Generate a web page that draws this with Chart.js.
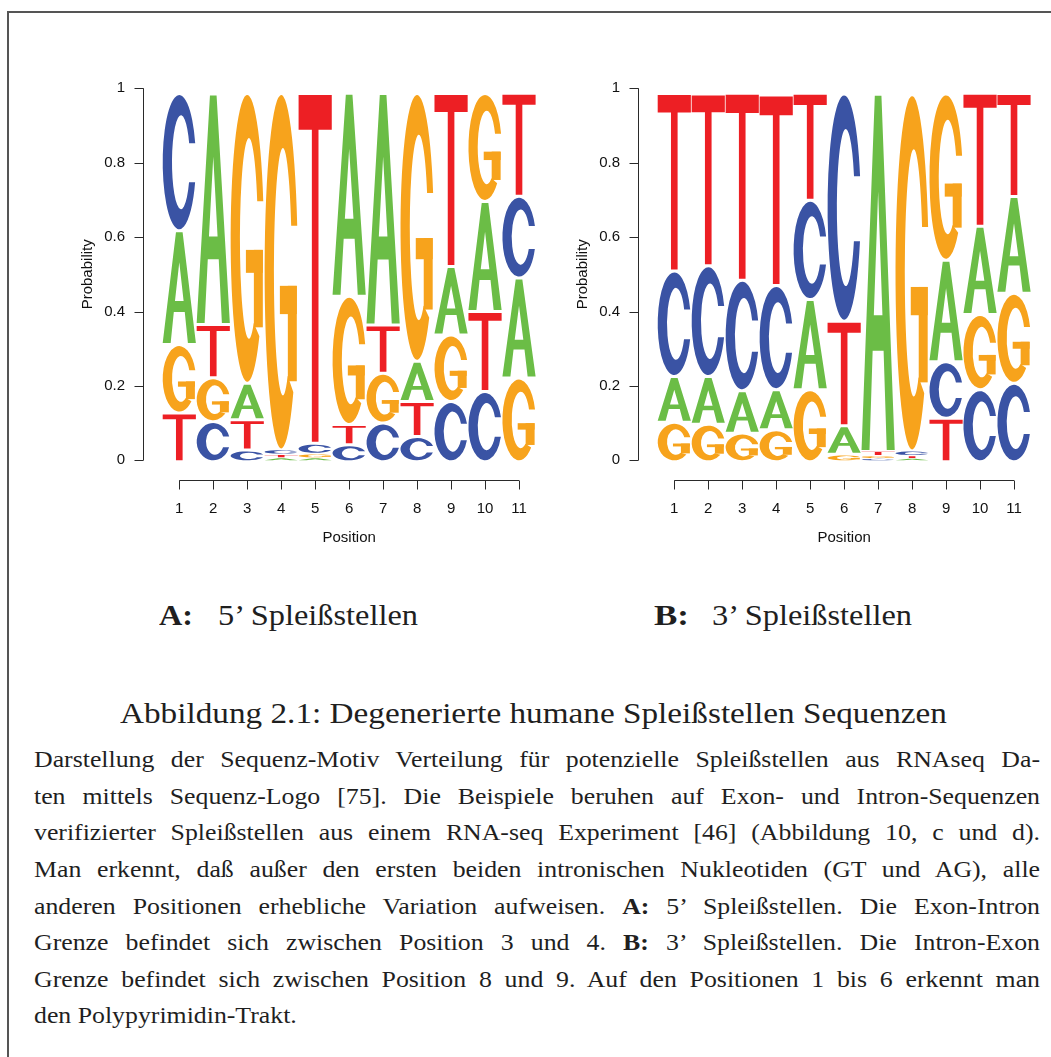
<!DOCTYPE html>
<html>
<head>
<meta charset="utf-8">
<title>Degenerierte humane Spleißstellen Sequenzen</title>
<script src="https://cdn.jsdelivr.net/npm/chart.js@4.4.1/dist/chart.umd.min.js"></script>
<style>
  html, body { margin: 0; padding: 0; background: #ffffff; overflow: hidden; }
  body { width: 1051px; height: 1057px; position: relative; }
  .frame { position: absolute; left: 7px; top: 11px; width: 1200px; height: 1200px;
           border-left: 2px solid #555; border-top: 2px solid #555; }
  .chartBox { position: absolute; top: 40px; width: 548px; height: 530px; }
  .txt { position: absolute; white-space: pre; font-family: "Liberation Serif", "Times New Roman", serif;
         color: #1f1f1f; transform-origin: 0 0; line-height: 1; }
  .txt b { font-weight: bold; }
</style>
</head>
<body>
<div class="frame"></div>
<div class="chartBox" style="left:0px"><canvas id="logo5"></canvas></div>
<div class="chartBox" style="left:495px"><canvas id="logo3"></canvas></div>
<div id="captions"></div>
<script>
// ---- data -------------------------------------------------------------
const positions = ['1', '2', '3', '4', '5', '6', '7', '8', '9', '10', '11'];
const yTickValues = [0, 0.2, 0.4, 0.6, 0.8, 1];
const yTickLabels = ['0', '0.2', '0.4', '0.6', '0.8', '1'];

// 5' splice sites: nucleotide probability per position
const fivePrimeA = [0.306, 0.620, 0.098, 0.008, 0.008, 0.546, 0.622, 0.108, 0.184, 0.296, 0.269];
const fivePrimeC = [0.369, 0.108, 0.032, 0.014, 0.030, 0.046, 0.104, 0.068, 0.162, 0.189, 0.220];
const fivePrimeG = [0.184, 0.118, 0.779, 0.958, 0.012, 0.345, 0.134, 0.720, 0.179, 0.290, 0.225];
const fivePrimeT = [0.131, 0.143, 0.081, 0.010, 0.940, 0.054, 0.130, 0.094, 0.465, 0.215, 0.277];
// stacking order of the letters, bottom to top
const fivePrimeOrder = ['TGAC', 'CGTA', 'CTAG', 'ATCG', 'AGCT', 'CTGA', 'CGTA', 'CTAG', 'CGAT', 'CTAG', 'GACT'];

// 3' splice sites
const threePrimeA = [0.123, 0.128, 0.114, 0.108, 0.242, 0.077, 0.960, 0.006, 0.273, 0.237, 0.260];
const threePrimeC = [0.284, 0.298, 0.297, 0.280, 0.267, 0.611, 0.006, 0.015, 0.152, 0.194, 0.211];
const threePrimeG = [0.106, 0.101, 0.077, 0.086, 0.194, 0.020, 0.008, 0.958, 0.447, 0.202, 0.242];
const threePrimeT = [0.477, 0.462, 0.503, 0.512, 0.288, 0.281, 0.014, 0.008, 0.117, 0.358, 0.277];
const threePrimeOrder = ['GACT', 'GACT', 'GACT', 'GACT', 'GACT', 'GATC', 'CGTA', 'ATCG', 'TCAG', 'CGAT', 'CGAT'];

const subTitleA = ['A:', '5’ Spleißstellen'];
const subTitleB = ['B:', '3’ Spleißstellen'];
const figureTitle = 'Abbildung 2.1: Degenerierte humane Spleißstellen Sequenzen';
const captionLines = [
  'Darstellung der Sequenz-Motiv Verteilung für potenzielle Spleißstellen aus RNAseq Da-',
  'ten mittels Sequenz-Logo [75]. Die Beispiele beruhen auf Exon- und Intron-Sequenzen',
  'verifizierter Spleißstellen aus einem RNA-seq Experiment [46] (Abbildung 10, c und d).',
  'Man erkennt, daß außer den ersten beiden intronischen Nukleotiden (GT und AG), alle',
  'anderen Positionen erhebliche Variation aufweisen. <b>A:</b> 5’ Spleißstellen. Die Exon-Intron',
  'Grenze befindet sich zwischen Position 3 und 4. <b>B:</b> 3’ Spleißstellen. Die Intron-Exon',
  'Grenze befindet sich zwischen Position 8 und 9. Auf den Positionen 1 bis 6 erkennt man',
  'den Polypyrimidin-Trakt.'
];

// ---- letter glyphs (unit box, y downwards) ---------------------------
const letterColours = { A: '#6bbd46', C: '#3a53a4', G: '#f7a31c', T: '#ed1f24' };

function glyphPath(ctx, ch) {
  ctx.beginPath();
  if (ch === 'T') {
    ctx.rect(0, 0, 1, 0.1);
    ctx.rect(0.4, 0.1, 0.2, 0.9);
  } else if (ch === 'A') {
    ctx.moveTo(0, 1); ctx.lineTo(0.4, 0); ctx.lineTo(0.6, 0); ctx.lineTo(1, 1);
    ctx.lineTo(0.76, 1); ctx.lineTo(0.665, 0.72); ctx.lineTo(0.335, 0.72); ctx.lineTo(0.24, 1);
    ctx.closePath();
    ctx.moveTo(0.37, 0.62); ctx.lineTo(0.5, 0.27); ctx.lineTo(0.63, 0.62); ctx.closePath();
  } else if (ch === 'C') {
    const oTop = Math.asin((0.36 - 0.5) / 0.5), oBot = Math.asin((0.65 - 0.5) / 0.5);
    const iTop = Math.asin((0.36 - 0.5) / 0.35), iBot = Math.asin((0.65 - 0.5) / 0.35);
    ctx.ellipse(0.5, 0.5, 0.5, 0.5, 0, oTop, oBot, true);
    ctx.ellipse(0.55, 0.5, 0.27, 0.35, 0, iBot, iTop, false);
    ctx.closePath();
  } else if (ch === 'G') {
    const oTop = Math.asin((0.37 - 0.5) / 0.5), iTop = Math.asin((0.37 - 0.5) / 0.35);
    ctx.ellipse(0.5, 0.5, 0.5, 0.5, 0, oTop, 0.75, true);
    ctx.ellipse(0.55, 0.5, 0.27, 0.35, 0, 1.0, iTop, false);
    ctx.closePath();
  }
}

function drawLetter(ctx, ch, x, y, w, h) {
  if (w <= 0 || h <= 0) return;
  ctx.save();
  ctx.translate(x, y);
  ctx.scale(w, h);
  ctx.fillStyle = letterColours[ch];
  glyphPath(ctx, ch);
  ctx.fill(ch === 'A' ? 'evenodd' : 'nonzero');
  if (ch === 'G') {
    ctx.fillRect(0.70, 0.54, 0.27, 0.27);   // stem
    ctx.fillRect(0.46, 0.54, 0.51, 0.08);   // spur
  }
  ctx.restore();
}

// draws each stacked bar as its nucleotide letter
const letterPlugin = {
  id: 'logoLetters',
  afterDatasetsDraw(chart) {
    const ctx = chart.ctx;
    chart.data.datasets.forEach((ds, r) => {
      const meta = chart.getDatasetMeta(r);
      meta.data.forEach((bar, i) => {
        const p = bar.getProps(['x', 'y', 'base', 'width'], true);
        const top = Math.min(p.y, p.base), bottom = Math.max(p.y, p.base);
        const h = bottom - top;
        const gap = Math.min(3, h * 0.35);
        drawLetter(ctx, ds.letters[i], p.x - p.width / 2 + 0.4, top + gap, p.width - 0.8, h - gap);
      });
    });
  }
};

// detached axes with outward ticks
const axisPlugin = {
  id: 'detachedAxes',
  afterDraw(chart) {
    const ctx = chart.ctx, xs = chart.scales.x, ys = chart.scales.y, area = chart.chartArea;
    const ax = Math.round(area.left - 19) + 0.5;
    const ay = Math.round(area.bottom + 19.7) + 0.5;
    ctx.save();
    ctx.strokeStyle = '#2a2a2a';
    ctx.lineWidth = 1;
    ctx.beginPath();
    ctx.moveTo(ax, ys.getPixelForValue(yTickValues[0]));
    ctx.lineTo(ax, ys.getPixelForValue(yTickValues[yTickValues.length - 1]));
    yTickValues.forEach(v => {
      const py = Math.round(ys.getPixelForValue(v)) + 0.5;
      ctx.moveTo(ax, py); ctx.lineTo(ax - 9, py);
    });
    const x0 = xs.getPixelForValue(0), x1 = xs.getPixelForValue(positions.length - 1);
    ctx.moveTo(x0, ay); ctx.lineTo(x1, ay);
    positions.forEach((_, i) => {
      const px = Math.round(xs.getPixelForValue(i)) + 0.5;
      ctx.moveTo(px, ay); ctx.lineTo(px, ay + 9);
    });
    ctx.stroke();
    ctx.restore();
  }
};

const axisFont = { family: '"Liberation Sans", Arial, sans-serif', size: 15 };

function buildLogo(canvasId, probs, order) {
  const datasets = [0, 1, 2, 3].map(r => ({
    data: positions.map((_, i) => probs[order[i][r]][i]),
    letters: positions.map((_, i) => order[i][r]),
    backgroundColor: 'rgba(0,0,0,0)',
    borderWidth: 0,
    barPercentage: 1,
    categoryPercentage: 1
  }));
  return new Chart(document.getElementById(canvasId), {
    type: 'bar',
    data: { labels: positions, datasets },
    options: {
      responsive: true,
      maintainAspectRatio: false,
      animation: false,
      devicePixelRatio: 1,
      events: [],
      layout: { padding: { top: 48.3, right: 12, bottom: 0, left: 0 } },
      plugins: { legend: { display: false }, tooltip: { enabled: false } },
      scales: {
        x: {
          stacked: true,
          offset: true,
          grid: { display: false, drawTicks: true, tickLength: 40 },
          border: { display: false },
          ticks: { padding: 0, autoSkip: false, maxRotation: 0, minRotation: 0, font: axisFont, color: '#111' },
          title: { display: true, text: 'Position', font: axisFont, color: '#111', padding: { top: 0, bottom: 23 } },
          afterFit: s => { s.height = 109.7; }
        },
        y: {
          stacked: true,
          min: 0,
          max: 1,
          afterBuildTicks: s => { s.ticks = yTickValues.map(v => ({ value: v })); },
          grid: { display: false, drawTicks: true, tickLength: 37.3 },
          border: { display: false },
          ticks: { padding: 0, font: axisFont, color: '#111', callback: (v, i) => yTickLabels[i] },
          title: { display: true, text: 'Probability', font: axisFont, color: '#111', padding: { top: 79, bottom: 0 } },
          afterFit: s => { s.width = 162.3; }
        }
      }
    },
    plugins: [letterPlugin, axisPlugin]
  });
}

// ---- text placement ----------------------------------------------------
const host = document.getElementById('captions');

function placeText(html, x, baseline, size, opts) {
  opts = opts || {};
  const el = document.createElement('div');
  el.className = 'txt';
  el.style.fontSize = size + 'px';
  if (opts.bold) el.style.fontWeight = 'bold';
  el.innerHTML = html + '<span style="display:inline-block;width:0;height:0"></span>';
  el.style.left = x + 'px';
  el.style.top = '0px';
  host.appendChild(el);
  const marker = el.lastChild;
  const offset = marker.getBoundingClientRect().bottom - el.getBoundingClientRect().top;
  const natural = el.getBoundingClientRect().width;
  let sx = 1;
  if (opts.justifyTo) {
    sx = opts.scale;
    const spaces = (el.textContent.match(/ /g) || []).length;
    const extra = (opts.justifyTo / sx - natural) / Math.max(spaces, 1);
    el.style.wordSpacing = extra + 'px';
  } else if (opts.fitTo) {
    sx = opts.fitTo / natural;
  } else if (opts.scale) {
    sx = opts.scale;
  }
  el.style.transform = 'scaleX(' + sx + ')';
  el.style.top = (baseline - offset) + 'px';
}

function layoutText() {
  placeText(subTitleA[0], 159, 625, 29, { bold: true, fitTo: 34 });
  placeText(subTitleA[1], 218, 625, 29, { fitTo: 200 });
  placeText(subTitleB[0], 654, 625, 29, { bold: true, fitTo: 35 });
  placeText(subTitleB[1], 712, 625, 29, { fitTo: 200 });
  placeText(figureTitle, 120, 723, 30, { fitTo: 827 });
  const bodyScale = 1.075;
  captionLines.forEach((line, k) => {
    const baseline = 767.3 + k * 36.55;
    if (k < captionLines.length - 1) {
      placeText(line, 34, baseline, 24, { justifyTo: 1006, scale: bodyScale });
    } else {
      placeText(line, 34, baseline, 24, { scale: bodyScale });
    }
  });
}

Promise.all([
  document.fonts.load('15px "Liberation Sans"'),
  document.fonts.load('24px "Liberation Serif"'),
  document.fonts.load('bold 24px "Liberation Serif"')
]).catch(() => {}).then(() => {
  buildLogo('logo5', { A: fivePrimeA, C: fivePrimeC, G: fivePrimeG, T: fivePrimeT }, fivePrimeOrder);
  buildLogo('logo3', { A: threePrimeA, C: threePrimeC, G: threePrimeG, T: threePrimeT }, threePrimeOrder);
  layoutText();
});
</script>
</body>
</html>
